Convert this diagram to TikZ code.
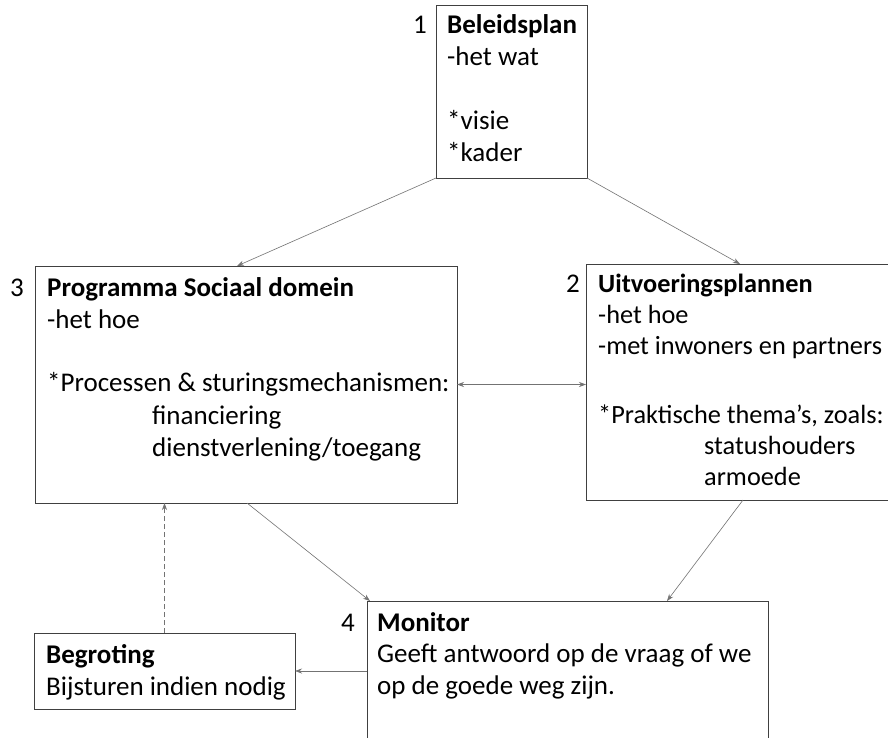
\documentclass[tikz,border=0pt]{standalone}
\usepackage{fontspec}
\setmainfont{Carlito}
\usetikzlibrary{arrows.meta}

\tikzset{
  box/.style={draw=black!75, line width=0.9pt, inner sep=0pt, outer sep=0pt, anchor=north west},
  txt/.style={anchor=north west, inner sep=0pt, align=left, font=\fontsize{27}{32.3}\selectfont},
  num/.style={anchor=base, inner sep=0pt, font=\fontsize{27}{32.3}\selectfont},
  arr/.style={draw=black!55, line width=0.6pt, -{Stealth[length=7pt,width=5pt]}},
}

\begin{document}
\begin{tikzpicture}[x=1pt,y=-1pt]
  \clip (0,0) rectangle (888,737);
  \fill[white] (0,0) rectangle (888,737);
  % the five boxes
  \node[box, minimum width=151, minimum height=173] (plan) at (436,5) {};
  \node[box, minimum width=422, minimum height=237] (prog) at (35,266) {};
  \node[box, minimum width=312, minimum height=236] (uitv) at (586,264) {};
  \node[box, minimum width=261, minimum height=76] (begr) at (34,633) {};
  \node[box, minimum width=401, minimum height=141] (mon) at (367,601) {};
  % numbers beside the boxes
  \node[num] (n1) at (420,33) {1};
  \node[num] (n3) at (17,296) {3};
  \node[num] (n2) at (573,292) {2};
  \node[num] (n4) at (348,631) {4};
  % box texts
  \node[txt] (plantxt) at (447,13) {\rule{0pt}{20pt}\textbf{Beleidsplan}\\
    -het wat\\[31.5pt]
    *visie\\
    *kader};
  \node[txt] (progtxt) at (47,276) {\rule{0pt}{20pt}\textbf{Programma Sociaal domein}\\
    -het hoe\\[31pt]
    *Processen \& sturingsmechanismen:\\
    \hspace*{105pt}financiering\\
    \hspace*{105pt}dienstverlening/toegang};
  \node[txt, font=\fontsize{26.3}{31}\selectfont] (uitvtxt) at (598,272) {\rule{0pt}{20pt}\textbf{Uitvoeringsplannen}\\
    -het hoe\\
    -met inwoners en partners\\[38pt]
    *Praktische thema’s, zoals:\\
    \hspace*{106pt}statushouders\\
    \hspace*{106pt}armoede};
  \node[txt, font=\fontsize{27}{32}\selectfont] (begrtxt) at (46,643) {\rule{0pt}{20pt}\textbf{Begroting}\\
    Bijsturen indien nodig};
  \node[txt, font=\fontsize{27}{31.5}\selectfont] (montxt) at (377,611) {\rule{0pt}{20pt}\textbf{Monitor}\\
    Geeft antwoord op de vraag of we\\
    op de goede weg zijn.};
  % connectors
  \draw[arr] (plan.south west) -- ([xshift=-9pt]prog.north);
  \draw[arr] (plan.south east) -- (uitv.north -| 740,0);
  \draw[arr, {Stealth[length=7pt,width=5pt]}-{Stealth[length=7pt,width=5pt]}] (prog.east) -- (prog.east -| uitv.west);
  \draw[arr] ([xshift=1pt]prog.south) -- ([xshift=3pt]mon.north west);
  \draw[arr] (uitv.south -| 743,0) -- (mon.north -| 667,0);
  \draw[arr] (mon.west |- 0,671) -- (begr.east |- 0,671);
  \draw[arr, dash pattern=on 5pt off 3pt] (begr.north) -- (begr.north |- prog.south);
\end{tikzpicture}
\end{document}
